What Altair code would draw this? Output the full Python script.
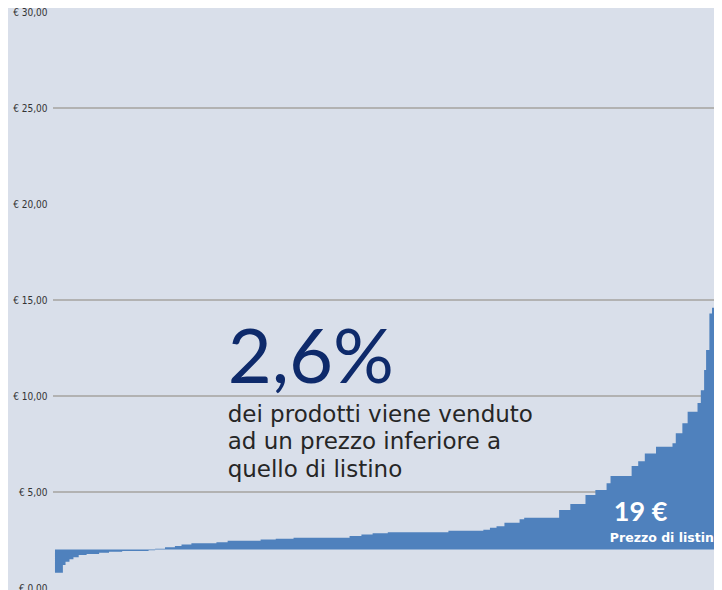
import altair as alt
import pandas as pd

# product rank (0..1000, sorted by price) where each price step starts, and price in €
rank = [0, 12, 16, 22, 28, 36, 48, 67, 82, 102, 142, 152, 167, 182, 192, 207,
        245, 262, 312, 335, 362, 447, 465, 482, 505, 597, 650, 660, 670, 682,
        705, 712, 765, 782, 805, 820, 837, 843, 875, 885, 895, 912, 937, 942,
        952, 960, 975, 980, 985, 988, 993, 997, 1000]
price = [0.80, 1.20, 1.37, 1.50, 1.60, 1.72, 1.77, 1.84, 1.89, 1.93, 1.97, 2.05,
         2.12, 2.19, 2.26, 2.33, 2.38, 2.46, 2.52, 2.57, 2.62, 2.71, 2.78, 2.85,
         2.90, 2.98, 3.04, 3.14, 3.21, 3.40, 3.58, 3.66, 4.06, 4.38, 4.84, 5.10,
         5.45, 5.83, 6.35, 6.60, 7.00, 7.36, 7.54, 8.06, 8.58, 9.18, 9.64, 10.30,
         11.35, 12.40, 14.30, 14.60, 14.60]
baseline = 2.0
y_ticks = [0, 5, 10, 15, 20, 25, 30]
grid_values = [5, 10, 15, 25]

big_text = "2,6%"
body_lines = ["dei prodotti viene venduto", "ad un prezzo inferiore a", "quello di listino"]
price_label = "19 €"
price_sub = "Prezzo di listino"

df = pd.DataFrame({"rank": rank, "price": price})
grid_df = pd.DataFrame({"v": grid_values})
ann_df = pd.DataFrame({
    "rank": [262, 262, 848, 842],
    "v": [10.68, 8.66, 3.5, 2.4],
    "kind": ["big", "body", "price", "sub"],
})

xs = alt.Scale(domain=[-3, 1000], nice=False, zero=False)
ys = alt.Scale(domain=[0, 30], nice=False, zero=False)

x_enc = alt.X("rank:Q", scale=xs, axis=None)

grid = alt.Chart(grid_df).mark_rule(color="#b2b2b2", strokeWidth=2).encode(
    y=alt.Y("v:Q", scale=ys,
            axis=alt.Axis(values=y_ticks, title=None, grid=False, domain=False,
                          ticks=False, labelPadding=6,
                          labelExpr="'€ ' + replace(format(datum.value, '.2f'), '.', ',')",
                          labelFont="Liberation Sans Narrow, DejaVu Sans Condensed, sans-serif",
                          labelFontSize=10, labelColor="#333333"))
)

area = alt.Chart(df).mark_area(interpolate="step-after", color="#4f81bd", opacity=1).encode(
    x=x_enc,
    y=alt.Y("price:Q", scale=ys),
    y2=alt.datum(baseline),
)

def ann(kind, text, **kw):
    return alt.Chart(ann_df).transform_filter(alt.datum.kind == kind).mark_text(
        align="left", baseline="alphabetic", text=text, clip=True, **kw
    ).encode(x=alt.X("rank:Q", scale=xs), y=alt.Y("v:Q", scale=ys))

big = ann("big", big_text, font="Lato", fontSize=76, fontWeight="normal", color="#0e2a6b")
body = ann("body", body_lines, font="DejaVu Sans", fontSize=23, fontWeight="normal",
           color="#262626", lineHeight=27.5)
pr = ann("price", price_label, font="Lato", fontSize=27, fontWeight="bold", color="white")
sub = ann("sub", price_sub, font="DejaVu Sans", fontSize=12.5, fontWeight="bold", color="white")

chart = alt.layer(grid, area, big, body, pr, sub).properties(
    width=661, height=576,
    autosize=alt.AutoSizeParams(type="none"),
    padding={"left": 45, "top": 4, "right": 0, "bottom": 2},
    background="#d9dfea",
).configure_view(stroke=None, fill="#d9dfea")

chart.save("out.html", embed_options={"renderer": "svg", "actions": False})
